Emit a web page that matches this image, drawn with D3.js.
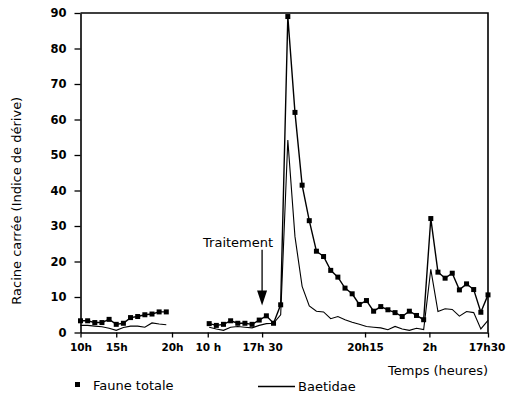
<!DOCTYPE html>
<html>
<head>
<meta charset="utf-8">
<script src="https://cdn.jsdelivr.net/npm/d3@7"></script>
<style>
  body { margin: 0; background: #fff; }
  svg { display: block; font-family: "DejaVu Sans", sans-serif; }
</style>
</head>
<body>
<div id="chart"></div>
<script>
// sample index 0..57, gap (no sampling) between 13 and 17
const fauneTotale = [
  3.3, 3.3, 2.8, 2.8, 3.7, 2.3, 2.6, 4.2, 4.5, 5.0, 5.2, 5.8, 5.8,
  null, null, null, null, null,
  2.5, 2.0, 2.3, 3.3, 2.6, 2.6, 2.3, 3.5, 4.7, 2.6, 7.8, 89, 62, 41.5,
  31.5, 22.9, 21.4, 17.5, 15.6, 12.5, 10.9, 7.9, 9.0, 6.0, 7.3, 6.4, 5.6, 4.5,
  6.0, 4.8, 3.6, 32.1, 17.0, 15.3, 16.7, 12.0, 13.7, 12.1, 5.7, 10.6
];
const baetidae = [
  2.0, 2.0, 1.8, 1.6, 1.2, 0.6, 1.4, 1.8, 1.8, 1.5, 2.7, 2.4, 2.2,
  null, null, null, null, null,
  1.5, 1.0, 0.6, 1.5, 1.7, 1.5, 1.3, 2.0, 2.5, 2.6, 5.0, 54.2, 27, 13,
  7.5, 6.0, 5.8, 3.9, 4.5, 3.6, 2.9, 2.3, 1.7, 1.5, 1.3, 0.8, 1.7, 1.0,
  0.6, 1.2, 0.8, 17.8, 5.9, 6.7, 6.5, 4.6, 5.9, 5.6, 1.0, 3.4
];
const xTickValues = [0, 5, 12.8, 17.8, 25.4, 39.8, 48.8, 57];
const xTickLabels = ['10h', '15h', '20h', '10 h', '17h 30', '20h15', '2h', '17h30'];
const yTickValues = [0, 10, 20, 30, 40, 50, 60, 70, 80, 90];
const treatmentIndex = 25.4;

const width = 506, height = 393;
const svg = d3.select('#chart').append('svg')
  .attr('width', width)
  .attr('height', height);

const x = d3.scaleLinear().domain([0, 57]).range([80.5, 488]);
const y = d3.scaleLinear().domain([0, 90]).range([332.5, 13]);

// frame top / right
svg.append('path')
  .attr('d', `M${x(0)},${y(90)}H${x(57)}V${y(0)}`)
  .attr('fill', 'none')
  .attr('stroke', '#000')
  .attr('stroke-width', 1.6);

const xAxis = d3.axisBottom(x)
  .tickValues(xTickValues)
  .tickFormat((d, i) => xTickLabels[i])
  .tickSize(5)
  .tickPadding(6)
  .tickSizeOuter(0);

const yAxis = d3.axisLeft(y)
  .tickValues(yTickValues)
  .tickSize(6)
  .tickPadding(8)
  .tickSizeOuter(0);

const gx = svg.append('g')
  .attr('transform', `translate(0, ${y(0)})`)
  .call(xAxis)
  .attr('font-size', 10.5)
  .attr('font-weight', 'bold')
  .attr('font-family', '"DejaVu Sans", sans-serif');

// last label sits against the page edge
gx.selectAll('.tick text')
  .filter((d, i) => i === xTickValues.length - 1)
  .attr('dx', -1.5);

const gy = svg.append('g')
  .attr('transform', `translate(${x(0)}, 0)`)
  .call(yAxis)
  .attr('font-size', 11.5)
  .attr('font-weight', 'bold')
  .attr('font-family', '"DejaVu Sans", sans-serif');

svg.selectAll('.domain').attr('stroke-width', 1.6);
svg.selectAll('.tick line').attr('stroke-width', 1.3);

const line = d3.line()
  .defined(d => d != null)
  .x((d, i) => x(i))
  .y(d => y(d));

svg.append('path')
  .datum(baetidae)
  .attr('fill', 'none')
  .attr('stroke', '#000')
  .attr('stroke-width', 1.1)
  .attr('d', line);

svg.append('path')
  .datum(fauneTotale)
  .attr('fill', 'none')
  .attr('stroke', '#000')
  .attr('stroke-width', 1.4)
  .attr('d', line);

const sq = 5;
svg.append('g')
  .selectAll('rect')
  .data(fauneTotale.map((v, i) => ({ v, i })).filter(d => d.v != null))
  .enter().append('rect')
  .attr('x', d => x(d.i) - sq / 2)
  .attr('y', d => y(d.v) - sq / 2)
  .attr('width', sq)
  .attr('height', sq)
  .attr('fill', '#000');

// treatment arrow
const ax = x(treatmentIndex);
svg.append('text')
  .attr('x', ax - 24)
  .attr('y', y(24.2))
  .attr('text-anchor', 'middle')
  .attr('font-size', 13)
  .text('Traitement');
svg.append('line')
  .attr('x1', ax).attr('x2', ax)
  .attr('y1', y(23.3)).attr('y2', y(11.5))
  .attr('stroke', '#000')
  .attr('stroke-width', 1.3);
svg.append('path')
  .attr('d', `M${ax - 5},${y(11.8)}L${ax + 5},${y(11.8)}L${ax},${y(7.6)}Z`)
  .attr('fill', '#000');

// axis titles
svg.append('text')
  .attr('transform', `translate(21, ${(y(0) + y(90)) / 2 + 28}) rotate(-90)`)
  .attr('text-anchor', 'middle')
  .attr('font-size', 13)
  .text('Racine carrée (Indice de dérive)');

svg.append('text')
  .attr('x', 488)
  .attr('y', 375)
  .attr('text-anchor', 'end')
  .attr('font-size', 13)
  .text('Temps (heures)');

// legend
svg.append('rect')
  .attr('x', 75).attr('y', 382)
  .attr('width', 5).attr('height', 5)
  .attr('fill', '#000');
svg.append('text')
  .attr('x', 93).attr('y', 390)
  .attr('font-size', 13)
  .text('Faune totale');
svg.append('line')
  .attr('x1', 258).attr('x2', 295)
  .attr('y1', 386.5).attr('y2', 386.5)
  .attr('stroke', '#000')
  .attr('stroke-width', 1.3);
svg.append('text')
  .attr('x', 298).attr('y', 391)
  .attr('font-size', 13)
  .text('Baetidae');
</script>
</body>
</html>
